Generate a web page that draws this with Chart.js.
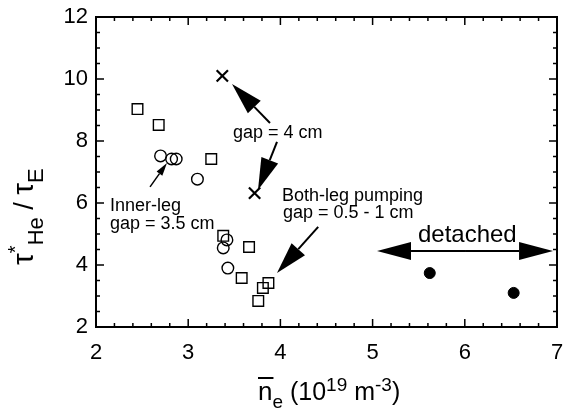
<!DOCTYPE html>
<html>
<head>
<meta charset="utf-8">
<script src="https://cdn.jsdelivr.net/npm/chart.js@4"></script>
<style>
  body { margin: 0; background: #fff; }
  #wrap { width: 568px; height: 410px; }
</style>
</head>
<body>
<div id="wrap"><canvas id="chart" width="568" height="410"></canvas></div>
<script>
// values
const squareX = [2.45, 2.68, 3.25, 3.38, 3.66, 3.58, 3.76, 3.81, 3.87];
const squareY = [9.03, 8.52, 7.42, 4.94, 4.58, 3.58, 2.84, 3.26, 3.42];
const circleX = [2.70, 2.82, 2.87, 3.10, 3.42, 3.38, 3.43];
const circleY = [7.52, 7.42, 7.42, 6.77, 4.81, 4.55, 3.90];
const crossX = [3.37, 3.72];
const crossY = [10.10, 6.32];
const detachedX = [5.62, 6.53];
const detachedY = [3.74, 3.10];

const xTicks = [2, 3, 4, 5, 6, 7];
const yTicks = [2, 4, 6, 8, 10, 12];

// annotations (data units)
const arrowFrom = [[3.887, 8.58], [3.963, 7.97], [4.41, 5.23]];
const arrowTo = [[3.475, 9.84], [3.757, 6.42], [3.963, 3.74]];
const thinFrom = [2.586, 6.52];
const thinTo = [2.77, 7.29];
const spanX = [5.048, 6.957];
const spanY = 4.45;

const noteText = ['gap = 4 cm', 'Inner-leg', 'gap = 3.5 cm', 'Both-leg pumping', 'gap = 0.5 - 1 cm'];
const noteX = [3.486, 2.152, 2.152, 4.017, 4.028];
const noteY = [8.10, 5.74, 5.16, 6.06, 5.52];

const FONT = '"Liberation Sans", Arial, Helvetica, sans-serif';

function pts(xs, ys) {
    return xs.map((v, i) => ({ x: v, y: ys[i] }));
}

function arrow(ctx, x1, y1, x2, y2, len, half) {
    const ang = Math.atan2(y2 - y1, x2 - x1);
    const bx = x2 - len * Math.cos(ang), by = y2 - len * Math.sin(ang);
    ctx.beginPath();
    ctx.moveTo(x1, y1);
    ctx.lineTo(bx, by);
    ctx.stroke();
    ctx.beginPath();
    ctx.moveTo(x2, y2);
    ctx.lineTo(bx + half * Math.sin(ang), by - half * Math.cos(ang));
    ctx.lineTo(bx - half * Math.sin(ang), by + half * Math.cos(ang));
    ctx.closePath();
    ctx.fill();
}

// draws a run of [text, size, shift] pieces, returns end x
function rich(ctx, parts, x, y) {
    parts.forEach(p => {
        ctx.font = p[1] + 'px ' + FONT;
        ctx.fillText(p[0], x, y + p[2]);
        x += ctx.measureText(p[0]).width;
    });
    return x;
}

const frameTicks = {
    id: 'frameTicks',
    afterDraw(chart) {
        const { ctx, chartArea: a, scales: { x, y } } = chart;
        ctx.save();
        ctx.strokeStyle = '#000';
        ctx.fillStyle = '#000';
        ctx.lineWidth = 2;
        ctx.strokeRect(a.left, a.top, a.right - a.left, a.bottom - a.top);

        ctx.lineWidth = 1.5;
        ctx.beginPath();
        for (let i = 0; i <= 25; i++) {
            const px = x.getPixelForValue(2 + i * 0.2);
            const len = i % 5 === 0 ? 8 : 4;
            ctx.moveTo(px, a.bottom); ctx.lineTo(px, a.bottom - len);
            ctx.moveTo(px, a.top); ctx.lineTo(px, a.top + len);
        }
        for (let i = 0; i <= 20; i++) {
            const py = y.getPixelForValue(2 + i * 0.5);
            const len = i % 4 === 0 ? 8 : 4;
            ctx.moveTo(a.left, py); ctx.lineTo(a.left + len, py);
            ctx.moveTo(a.right, py); ctx.lineTo(a.right - len, py);
        }
        ctx.stroke();

        // arrows
        ctx.lineWidth = 2;
        arrowFrom.forEach((f, i) => {
            const t = arrowTo[i];
            arrow(ctx, x.getPixelForValue(f[0]), y.getPixelForValue(f[1]),
                x.getPixelForValue(t[0]), y.getPixelForValue(t[1]), 32, 9);
        });
        ctx.lineWidth = 1.5;
        arrow(ctx, x.getPixelForValue(thinFrom[0]), y.getPixelForValue(thinFrom[1]),
            x.getPixelForValue(thinTo[0]), y.getPixelForValue(thinTo[1]), 13, 3.5);

        ctx.lineWidth = 2;
        const sy = y.getPixelForValue(spanY);
        const mid = (x.getPixelForValue(spanX[0]) + x.getPixelForValue(spanX[1])) / 2;
        arrow(ctx, mid, sy, x.getPixelForValue(spanX[0]), sy, 34, 9);
        arrow(ctx, mid, sy, x.getPixelForValue(spanX[1]), sy, 34, 9);

        // notes
        ctx.textAlign = 'left';
        ctx.textBaseline = 'alphabetic';
        ctx.font = '18px ' + FONT;
        noteText.forEach((t, i) => {
            ctx.fillText(t, x.getPixelForValue(noteX[i]), y.getPixelForValue(noteY[i]));
        });
        ctx.font = '24px ' + FONT;
        ctx.fillText('detached', x.getPixelForValue(5.492), y.getPixelForValue(4.74));

        // x title
        const nx = 258, nb = 400;
        ctx.font = '26px ' + FONT;
        const nw = ctx.measureText('n').width;
        ctx.beginPath();
        ctx.moveTo(nx, 378); ctx.lineTo(nx + nw + 1, 378);
        ctx.stroke();
        rich(ctx, [['n', 26, 0], ['e', 19, 8], [' (10', 25, 0], ['19', 19, -9],
            [' m', 25, 0], ['-3', 19, -9], [')', 25, 0]], nx, nb);

        // y title
        ctx.translate(33, 265);
        ctx.rotate(-Math.PI / 2);
        rich(ctx, [['\u03c4', 30, 0], ['*', 20, -11], ['He', 22, 10],
            [' / ', 27, 0], ['\u03c4', 30, 0], ['E', 22, 10]], 0, 0);
        ctx.restore();
    }
};

new Chart(document.getElementById('chart'), {
    type: 'scatter',
    data: {
        datasets: [
            {
                data: pts(squareX, squareY), pointStyle: 'rect', pointRadius: 7.5,
                borderColor: '#000', backgroundColor: 'rgba(0,0,0,0)', borderWidth: 1.4
            },
            {
                data: pts(circleX, circleY), pointStyle: 'circle', pointRadius: 5.8,
                borderColor: '#000', backgroundColor: 'rgba(0,0,0,0)', borderWidth: 1.4
            },
            {
                data: pts(crossX, crossY), pointStyle: 'crossRot', pointRadius: 8,
                borderColor: '#000', borderWidth: 2.2
            },
            {
                data: pts(detachedX, detachedY), pointStyle: 'circle', pointRadius: 5.5,
                borderColor: '#000', backgroundColor: '#000', borderWidth: 1
            }
        ]
    },
    options: {
        responsive: false,
        devicePixelRatio: 1,
        animation: false,
        layout: { padding: { top: 17, right: 11, left: 0, bottom: 0 } },
        plugins: { legend: { display: false }, tooltip: { enabled: false } },
        scales: {
            x: {
                type: 'linear', min: 2, max: 7,
                afterBuildTicks: s => { s.ticks = xTicks.map(v => ({ value: v })); },
                afterFit: s => { s.height = 83; s.paddingLeft = 0; s.paddingRight = 0; },
                grid: { display: false, drawTicks: false },
                border: { display: false },
                ticks: { color: '#000', padding: 13, font: { family: FONT, size: 22 } }
            },
            y: {
                type: 'linear', min: 2, max: 12,
                afterBuildTicks: s => { s.ticks = yTicks.map(v => ({ value: v })); },
                afterFit: s => { s.width = 96; s.paddingTop = 0; s.paddingBottom = 0; },
                grid: { display: false, drawTicks: false },
                border: { display: false },
                ticks: { color: '#000', padding: 8, font: { family: FONT, size: 22 } }
            }
        }
    },
    plugins: [frameTicks]
});
</script>
</body>
</html>
